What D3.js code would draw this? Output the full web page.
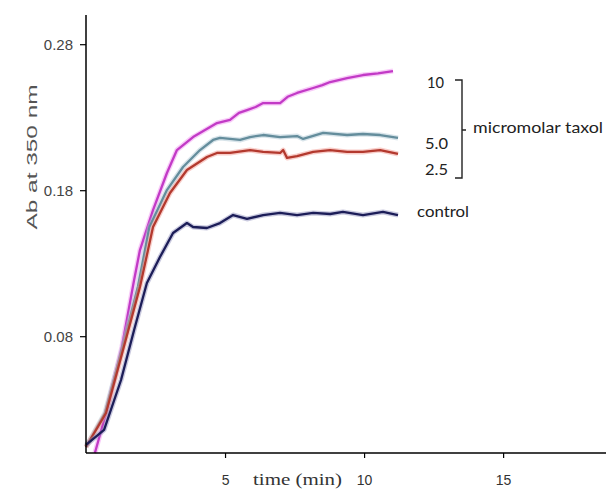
<!DOCTYPE html>
<html><head><meta charset="utf-8">
<script src="https://cdn.jsdelivr.net/npm/d3@7"></script>
<style>
body{margin:0;background:#fff;}
svg{display:block;}
</style></head>
<body>
<svg id="chart" width="606" height="489"></svg>
<script>
// ---- data ----
const xTicks = [5, 10, 15];
const yTicks = [0.08, 0.18, 0.28];

const t10  = [0.32,0.72,1.29,1.73,1.94,2.41,2.91,3.27,3.85,4.71,5.18,5.50,5.79,6.10,6.37,6.98,7.25,7.59,8.17,8.50,8.78,9.39,9.96,10.50,11.04];
const v10  = [0,0.0274,0.0726,0.1185,0.139,0.1664,0.1918,0.2075,0.2164,0.226,0.2281,0.2330,0.2349,0.2370,0.2397,0.2397,0.2440,0.2466,0.2500,0.2520,0.2541,0.2568,0.2589,0.2600,0.2616];

const t5   = [0,0.68,1.29,1.87,2.28,2.91,3.49,4.10,4.57,4.82,5.54,5.90,6.37,6.98,7.59,7.81,8.53,9.39,9.96,10.58,11.22];
const v5   = [0.0041,0.0274,0.0705,0.1142,0.1548,0.1801,0.1959,0.2075,0.2144,0.2158,0.2144,0.2164,0.2178,0.2164,0.2171,0.2151,0.2192,0.2178,0.2185,0.2178,0.2158];

const t25  = [0,0.72,1.33,1.94,2.41,3.02,3.63,4.35,4.71,5.18,5.90,6.37,6.98,7.09,7.23,7.59,8.17,8.78,9.39,9.96,10.58,11.22];
const v25  = [0.0041,0.0274,0.0705,0.1137,0.1548,0.1781,0.1938,0.2027,0.2055,0.2055,0.2075,0.2062,0.2055,0.2075,0.2021,0.2034,0.2062,0.2075,0.2062,0.2062,0.2075,0.2048];

const tCtl = [0,0.65,1.26,1.73,2.19,2.66,3.13,3.63,3.85,4.35,4.82,5.29,5.79,6.37,6.98,7.59,8.17,8.78,9.24,9.96,10.68,11.22];
const vCtl = [0.0055,0.0158,0.05,0.0842,0.1164,0.1342,0.1507,0.1575,0.1548,0.1541,0.1575,0.163,0.1603,0.163,0.1644,0.163,0.1644,0.1637,0.1651,0.163,0.1651,0.163];

const seriesNames = ["10","5.0","2.5","control"];
const seriesColors = ["#c23ac6","#648d9c","#b3392e","#1c1d58"];
const glowColors = ["#f08cf0","#a8c4d0","#f09088","#8a8ab8"];

// ---- chart ----
const svg = d3.select("#chart");
const x = d3.scaleLinear().domain([0, 18.7]).range([86, 606]);
const y = d3.scaleLinear().domain([0, 0.30]).range([453, 15]);

const series = [
  {name:seriesNames[0], t:t10, v:v10, color:seriesColors[0], glow:glowColors[0]},
  {name:seriesNames[1], t:t5, v:v5, color:seriesColors[1], glow:glowColors[1]},
  {name:seriesNames[2], t:t25, v:v25, color:seriesColors[2], glow:glowColors[2]},
  {name:seriesNames[3], t:tCtl, v:vCtl, color:seriesColors[3], glow:glowColors[3]}
];

const line = d3.line().x(d => x(d[0])).y(d => y(d[1]));

series.forEach(s => {
  const pts = s.t.map((t,i) => [t, s.v[i]]);
  svg.append("path").attr("d", line(pts)).attr("fill","none")
    .attr("stroke", s.glow).attr("stroke-opacity",0.45).attr("stroke-width",5)
    .attr("stroke-linejoin","round");
  svg.append("path").attr("d", line(pts)).attr("fill","none")
    .attr("stroke", s.color).attr("stroke-width",2.3)
    .attr("stroke-linejoin","round");
});

// axes
const yAxis = svg.append("g").attr("transform","translate(86,0)")
  .call(d3.axisLeft(y).tickValues(yTicks).tickFormat(d3.format(".2f")).tickSize(6).tickSizeOuter(0));
yAxis.select(".domain").attr("d","M0,15V453").attr("stroke","#000").attr("stroke-width",1.5);
yAxis.selectAll(".tick line").attr("stroke","#000").attr("stroke-width",1.2);
yAxis.selectAll(".tick text").attr("x",-13).attr("fill","#444")
  .style("font-family","Liberation Sans, Arial, sans-serif").style("font-size","15px");

const xAxis = svg.append("g").attr("transform","translate(0,453)")
  .call(d3.axisBottom(x).tickValues(xTicks).tickFormat(d3.format("d")).tickSize(5).tickSizeOuter(0));
xAxis.select(".domain").attr("d","M86,0H606").attr("stroke","#000").attr("stroke-width",1.5);
xAxis.selectAll(".tick line").attr("stroke","#000").attr("stroke-width",1.2);
xAxis.selectAll(".tick text").attr("y",22).attr("fill","#333")
  .style("font-family","Liberation Sans, Arial, sans-serif").style("font-size","14px");

// axis titles
svg.append("text").attr("x",253).attr("y",485)
  .attr("fill","#333").style("font-family","Liberation Serif, serif").style("font-size","17px")
  .attr("textLength",89).attr("lengthAdjust","spacingAndGlyphs")
  .text("time (min)");
svg.append("text").attr("transform","translate(37,157) rotate(-90)").attr("text-anchor","middle")
  .attr("fill","#555").style("font-family","Liberation Sans, Arial, sans-serif").style("font-size","14px")
  .attr("textLength",145).attr("lengthAdjust","spacingAndGlyphs")
  .text("Ab  at  350 nm");

// right labels
const lab = svg.append("g").style("font-family","Lato, 'Open Sans', sans-serif").style("font-size","16px").attr("fill","#222");
lab.append("text").attr("x",427).attr("y",88).attr("textLength",17).attr("lengthAdjust","spacingAndGlyphs").text(seriesNames[0]);
lab.append("text").attr("x",425).attr("y",149).attr("textLength",23).attr("lengthAdjust","spacingAndGlyphs").text(seriesNames[1]);
lab.append("text").attr("x",425).attr("y",175).attr("textLength",23).attr("lengthAdjust","spacingAndGlyphs").text(seriesNames[2]);
lab.append("text").attr("x",417).attr("y",217).attr("textLength",52).attr("lengthAdjust","spacingAndGlyphs").text(seriesNames[3]);
lab.append("text").attr("x",473).attr("y",133).attr("textLength",130).attr("lengthAdjust","spacingAndGlyphs").text("micromolar taxol");
svg.append("path").attr("d","M455,80H462V178H455M462,130H466").attr("fill","none")
  .attr("stroke","#222").attr("stroke-width",1.4);
</script>
</body></html>
